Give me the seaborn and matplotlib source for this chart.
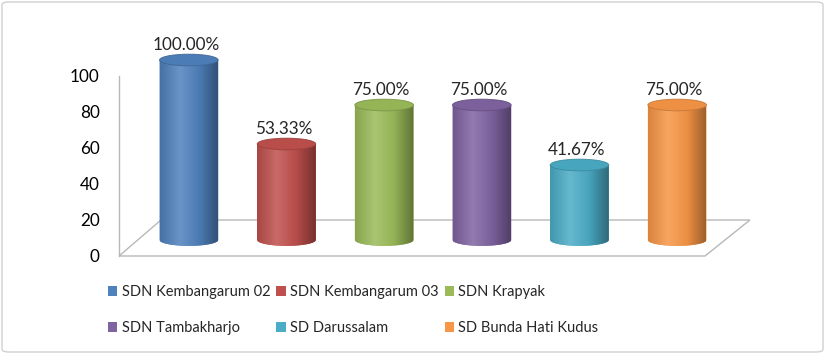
import numpy as np
import matplotlib
matplotlib.use("Agg")
import matplotlib.pyplot as plt
import matplotlib.transforms as mtransforms
from matplotlib.colors import LinearSegmentedColormap, to_rgb
from matplotlib.patches import Ellipse, PathPatch, Polygon, Patch, FancyBboxPatch
from matplotlib.path import Path
import seaborn as sns

# data
schools = ["SDN Kembangarum 02", "SDN Kembangarum 03", "SDN Krapyak",
           "SDN Tambakharjo", "SD Darussalam", "SD Bunda Hati Kudus"]
percent = [100.00, 53.33, 75.00, 75.00, 41.67, 75.00]
bar_colors = ["#4F81BD", "#C0504D", "#9BBB59", "#8064A2", "#4BACC6", "#F79646"]
yticks = [0, 20, 40, 60, 80, 100]

sns.set_style("white")
plt.rcParams["font.family"] = ["Lato", "DejaVu Sans"]

fig = plt.figure(figsize=(8.25, 3.54), dpi=100)
ax = fig.add_axes([119 / 825, 98 / 354, 586 / 825, 207 / 354])

sns.barplot(x=schools, y=percent, hue=schools, palette=bar_colors,
            legend=False, width=0.6, saturation=1, ax=ax, zorder=2)
bars = sorted(ax.patches[:], key=lambda p: p.get_x())

ax.set_xlim(-0.5, 5.5)
ax.set_ylim(0, 115)

# bars sit on the middle plane of the 3d floor -> shift them back a bit
shift = ax.transData + mtransforms.ScaledTranslation(0.21, 0.16, fig.dpi_scale_trans)

# floor of the 3d chart
floor = Polygon([(-0.5, 0), (5.5, 0), (5.96, 20), (-0.07, 20)], closed=True,
                fill=False, edgecolor="#b8b8b8", lw=1, zorder=1, clip_on=False)
ax.add_patch(floor)


def mix(c, other, t):
    c = np.array(to_rgb(c))
    return tuple(c + (np.array(other) - c) * t)


eh = 6.5  # ellipse height in data units
for i, p in enumerate(bars):
    col = bar_colors[i]
    x0, w, h = p.get_x(), p.get_width(), p.get_height()
    xc = x0 + w / 2
    p.set_transform(shift)
    p.set_clip_on(False)
    p.set_edgecolor("none")

    # cylinder body: rectangle + lower half ellipse
    t = np.linspace(np.pi, 2 * np.pi, 40)
    verts = [(x0, h), (x0, 0)]
    verts += list(zip(xc + w / 2 * np.cos(t), eh / 2 * np.sin(t)))
    verts += [(x0 + w, h), (x0, h)]
    body = PathPatch(Path(verts), facecolor=col, edgecolor="none",
                     transform=shift, zorder=2, clip_on=False)
    ax.add_patch(body)

    cmap = LinearSegmentedColormap.from_list(
        "cyl", [mix(col, (0, 0, 0), 0.12), mix(col, (1, 1, 1), 0.15),
                mix(col, (0, 0, 0), 0.05), mix(col, (0, 0, 0), 0.38)])
    grad = np.linspace(0, 1, 64)[None, :]
    im = ax.imshow(grad, cmap=cmap, extent=[x0, x0 + w, -eh / 2, h],
                   aspect="auto", transform=shift, zorder=3,
                   interpolation="bicubic")
    im.set_clip_box(None)
    im.set_clip_path(body)

    top = Ellipse((xc, h), w, eh, facecolor=mix(col, (0, 0, 0), 0.04),
                  edgecolor=mix(col, (0, 0, 0), 0.2), lw=0.6,
                  transform=shift, zorder=4, clip_on=False)
    ax.add_patch(top)

    ax.annotate(f"{percent[i]:.2f}%", (xc, h), xycoords=shift,
                xytext=(-3, 15), textcoords="offset pixels",
                ha="center", va="center", fontsize=12.3, color="#262626",
                zorder=5)

ax.set_xlim(-0.5, 5.5)
ax.set_ylim(0, 115)

ax.set_yticks(yticks)
ax.set_xticks([])
ax.set_xlabel("")
ax.set_ylabel("")
ax.tick_params(axis="y", length=0, pad=14, labelsize=12.3, labelcolor="#000000")
for s in ["top", "right", "bottom"]:
    ax.spines[s].set_visible(False)
ax.spines["left"].set_bounds(0, 100)
ax.spines["left"].set_color("#b8b8b8")
ax.spines["left"].set_linewidth(1)
ax.patch.set_alpha(0)

# legend: 2 rows x 3 columns, filled row-wise
order = [0, 3, 1, 4, 2, 5]
handles = [Patch(facecolor=bar_colors[k], edgecolor="none") for k in order]
labels = [schools[k] for k in order]
fig.legend(handles, labels, ncol=3, loc="upper left",
           bbox_to_anchor=(108 / 825, 1 - 285 / 354), frameon=False,
           fontsize=10.5, handlelength=0.65, handleheight=0.65,
           handletextpad=0.3, columnspacing=0.4, labelspacing=1.5,
           borderaxespad=0, borderpad=0)

# chart border
fig.patches.append(FancyBboxPatch((2 / 825, 2 / 354), 821 / 825, 350 / 354,
                                  boxstyle="round,pad=0,rounding_size=0.008",
                                  transform=fig.transFigure, fill=False,
                                  edgecolor="#d0d0d0", lw=1))

fig.savefig("out.png", dpi=100)
